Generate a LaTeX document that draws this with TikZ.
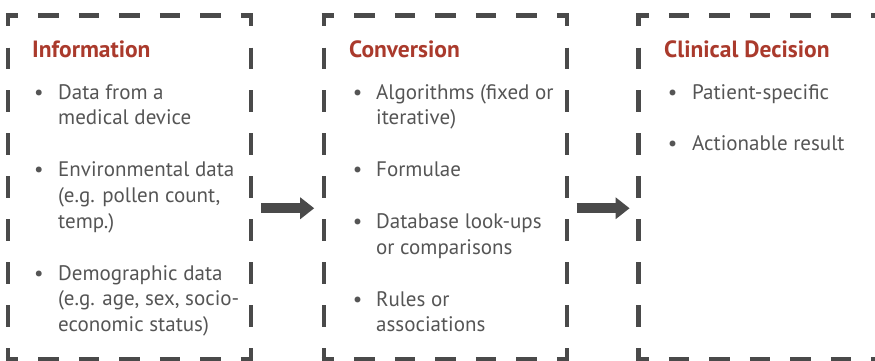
\documentclass[tikz,border=0pt]{standalone}
\usepackage{fontspec}
\setmainfont{PT Sans}
\usetikzlibrary{arrows.meta,calc}
\definecolor{framegray}{HTML}{4A4A4A}
\definecolor{titlered}{HTML}{AA3A2C}
\definecolor{bodygray}{HTML}{555555}

\newcommand{\pagefont}{\fontsize{21}{25.85}\selectfont}

\tikzset{
  stage/.style={minimum width=242.6pt, minimum height=343.5pt, inner sep=0pt},
  % dashed edges: half dash at each corner; #1 = dash length
  edge/.style={draw=framegray, line width=4.6pt, line cap=butt,
    dash pattern=on #1 off #1, dash phase={#1/2-2.3pt},
    shorten <=-2.3pt, shorten >=-2.3pt},
  heading/.style={anchor=base west, inner sep=0pt, text=titlered,
    font=\fontsize{23.5}{28}\selectfont\bfseries},
  bullet/.style={anchor=base, inner sep=0pt, text=bodygray, font=\pagefont},
  % anchored at the baseline of the last line
  itemtext/.style={anchor=base west, inner sep=0pt, text=bodygray,
    align=left, font=\pagefont},
  flow/.style={draw=framegray, line width=10pt,
    -{Triangle[length=14pt, width=21pt]}}
}

\newcommand{\stageframe}[1]{%
  \draw[edge=20.25pt] (#1.north west) -- (#1.north east);
  \draw[edge=20.25pt] (#1.south west) -- (#1.south east);
  \draw[edge=21.47pt] (#1.north west) -- (#1.south west);
  \draw[edge=21.47pt] (#1.north east) -- (#1.south east);
}

\begin{document}
\begin{tikzpicture}[x=1pt, y=-1pt]
\clip (0,0) rectangle (875,360);
\fill[white] (0,0) rectangle (875,360);

% the three stages
\node[stage] (info) at (129.6,187.25) {};
\node[stage] (conv) at (445.5,187.25) {};
\node[stage] (dec)  at (759.9,187.25) {};
\stageframe{info}
\stageframe{conv}
\stageframe{dec}

% Information
\node[heading] (infoT) at (32,57) {Information};
\node[bullet] (ib1) at (38.8,99) {•};
\node[itemtext] (i1) at (58,124.85) {Data from a\\medical device};
\node[bullet] (ib2) at (38.8,176.6) {•};
\node[itemtext] (i2) at (58,228.3) {Environmental data\\(e.g. pollen count,\\temp.)};
\node[bullet] (ib3) at (38.8,280) {•};
\node[itemtext] (i3) at (58,331.7) {Demographic data\\(e.g. age, sex, socio-\\economic status)};

% Conversion
\node[heading] (convT) at (349,57) {Conversion};
\node[bullet] (cb1) at (357.5,99) {•};
\node[itemtext] (c1) at (376,124.85) {Algorithms (fixed or\\iterative)};
\node[bullet] (cb2) at (357.5,176.6) {•};
\node[itemtext] (c2) at (376,176.6) {Formulae};
\node[bullet] (cb3) at (357.5,228.3) {•};
\node[itemtext] (c3) at (376,254.15) {Database look-ups\\or comparisons};
\node[bullet] (cb4) at (357.5,306) {•};
\node[itemtext] (c4) at (376,331.85) {Rules or\\associations};

% Clinical Decision
\node[heading] (decT) at (664,57) {Clinical Decision};
\node[bullet] (db1) at (672.5,99) {•};
\node[itemtext] (d1) at (692,99) {Patient-specific};
\node[bullet] (db2) at (672.5,150.7) {•};
\node[itemtext] (d2) at (692,150.7) {Actionable result};

% flow between stages
\coordinate (a1s) at ($(info.east)+(10.2,21)$);
\coordinate (a1e) at ($(conv.west)+(-9.8,21)$);
\coordinate (a2s) at ($(conv.east)+(9.5,21)$);
\coordinate (a2e) at ($(dec.west)+(-8.8,21)$);
\draw[flow] (a1s) -- (a1e);
\draw[flow] (a2s) -- (a2e);
\end{tikzpicture}
\end{document}
